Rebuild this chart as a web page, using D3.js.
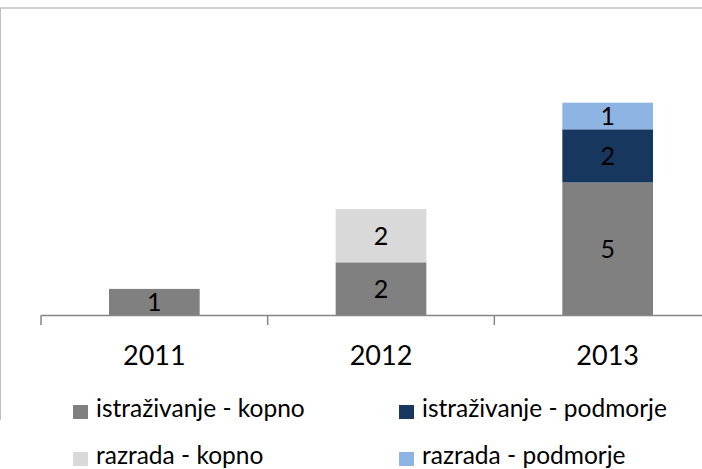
<!DOCTYPE html>
<html>
<head>
<meta charset="utf-8">
<script src="https://cdn.jsdelivr.net/npm/d3@7"></script>
<style>
  html, body { margin: 0; padding: 0; background: #fff; }
  svg { display: block; font-family: Lato, "Open Sans", sans-serif; }
</style>
</head>
<body>
<svg id="chart" width="702" height="469"></svg>
<script>
// data
const years = ["2011", "2012", "2013"];
const seriesNames = ["istraživanje - kopno", "razrada - kopno", "istraživanje - podmorje", "razrada - podmorje"];
const istrazivanjeKopno = [1, 2, 5];
const razradaKopno = [0, 2, 0];
const istrazivanjePodmorje = [0, 0, 2];
const razradaPodmorje = [0, 0, 1];
const seriesColors = ["#808080", "#d9d9d9", "#17375e", "#8eb4e3"];

const svg = d3.select("#chart");

// frame (chart is cropped, only top and left edges visible)
svg.append("line").attr("x1", 0).attr("x2", 702).attr("y1", 8).attr("y2", 8)
    .attr("stroke", "#bfbfbf").attr("stroke-width", 1.5);
svg.append("line").attr("x1", 0.5).attr("x2", 0.5).attr("y1", 8).attr("y2", 420)
    .attr("stroke", "#bfbfbf").attr("stroke-width", 1);

// scales
const xScale = d3.scaleBand().domain(years).range([41, 721]).paddingInner(0).paddingOuter(0);
const barW = xScale.bandwidth() * 0.4;
const yScale = d3.scaleLinear().domain([0, 10]).range([315.5, 49.5]);

// stack
const table = years.map((y, i) => ({
    year: y,
    [seriesNames[0]]: istrazivanjeKopno[i],
    [seriesNames[1]]: razradaKopno[i],
    [seriesNames[2]]: istrazivanjePodmorje[i],
    [seriesNames[3]]: razradaPodmorje[i]
}));
const stacked = d3.stack().keys(seriesNames)(table);
const color = d3.scaleOrdinal().domain(seriesNames).range(seriesColors);

const layers = svg.selectAll(".layer")
    .data(stacked)
    .enter()
    .append("g")
    .attr("class", "layer")
    .attr("fill", d => color(d.key));

layers.selectAll("rect")
    .data(d => d.filter(p => p[1] - p[0] > 0))
    .enter()
    .append("rect")
    .attr("x", d => xScale(d.data.year) + (xScale.bandwidth() - barW) / 2)
    .attr("width", barW)
    .attr("y", d => yScale(d[1]))
    .attr("height", d => yScale(d[0]) - yScale(d[1]));

layers.selectAll("text")
    .data(d => d.filter(p => p[1] - p[0] > 0))
    .enter()
    .append("text")
    .attr("x", d => xScale(d.data.year) + xScale.bandwidth() / 2)
    .attr("y", d => (yScale(d[0]) + yScale(d[1])) / 2 + 9)
    .attr("text-anchor", "middle")
    .style("font-size", "25px")
    .style("fill", "#000")
    .text(d => d[1] - d[0]);

// axis
const axis = svg.append("g")
    .attr("transform", "translate(0,315.5)")
    .call(d3.axisBottom(xScale).tickSize(0).tickPadding(0).tickFormat(""));
axis.select(".domain").attr("stroke", "#868686").attr("stroke-width", 1.5).attr("d", "M41,0H721");
const edges = [0, 1, 2, 3].map(i => 41 + i * xScale.bandwidth());
svg.selectAll(".tick-mark")
    .data(edges)
    .enter()
    .append("line")
    .attr("x1", d => d).attr("x2", d => d)
    .attr("y1", 315.5).attr("y2", 325)
    .attr("stroke", "#868686").attr("stroke-width", 1.5);

svg.selectAll(".year-label")
    .data(years)
    .enter()
    .append("text")
    .attr("x", d => xScale(d) + xScale.bandwidth() / 2)
    .attr("y", 365)
    .attr("text-anchor", "middle")
    .style("font-size", "27px")
    .style("fill", "#000")
    .text(d => d);

// legend
const legendPos = [[73, 419], [73, 466], [399, 419], [399, 466]];
const legend = svg.selectAll(".legend")
    .data(seriesNames)
    .enter()
    .append("g")
    .attr("class", "legend")
    .attr("transform", (d, i) => `translate(${legendPos[i][0]},${legendPos[i][1]})`);
legend.append("rect")
    .attr("x", 0).attr("y", -14)
    .attr("width", 15).attr("height", 14)
    .attr("fill", d => color(d));
legend.append("text")
    .attr("x", 23).attr("y", -2)
    .style("font-size", "24.5px")
    .style("fill", "#000")
    .text(d => d);
</script>
</body>
</html>
